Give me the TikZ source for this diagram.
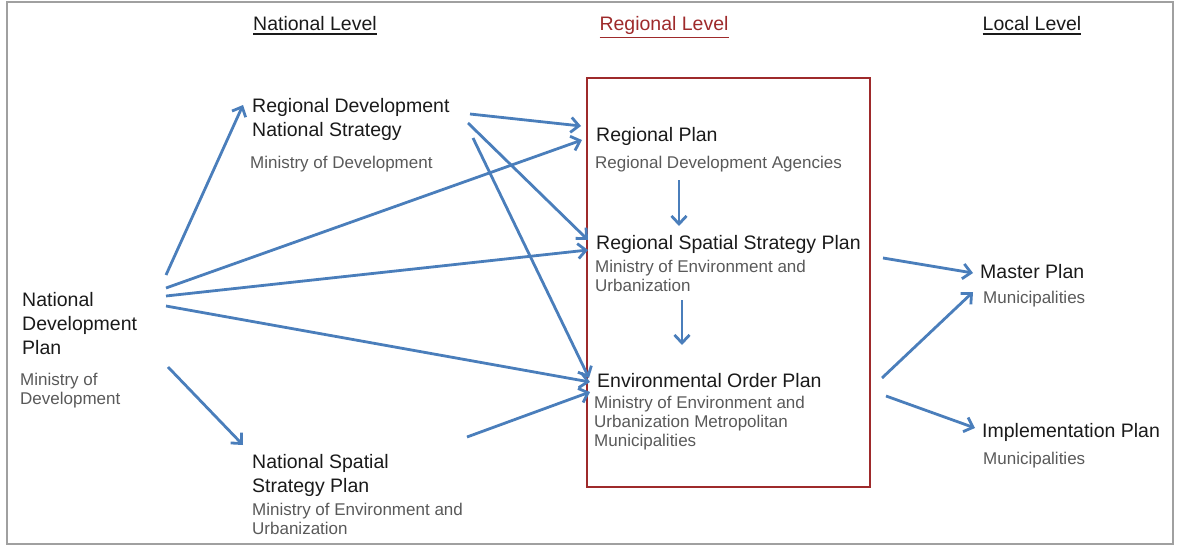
\documentclass[tikz,border=0pt]{standalone}
\usepackage{fontspec}
\setmainfont{Liberation Sans}
\usetikzlibrary{arrows.meta}
\definecolor{ink}{HTML}{1A1A1A}
\definecolor{muted}{HTML}{595959}
\definecolor{frame}{HTML}{A0A0A0}
\definecolor{regred}{HTML}{9E2A2B}
\definecolor{flowblue}{HTML}{4A7EBB}
\newcommand{\levelline}[1]{\leavevmode\vtop{\hbox{#1}\kern2.5pt\hrule height 1.6pt}}
\tikzset{
  plan/.style={anchor=north west,inner sep=0pt,align=left,text=ink,
               font=\fontsize{19.5}{24}\selectfont},
  agency/.style={anchor=north west,inner sep=0pt,align=left,text=muted,
               font=\fontsize{17}{19}\selectfont},
  level/.style={anchor=north,inner sep=0pt,font=\fontsize{19.5}{24}\selectfont},
  flow/.style={-{Straight Barb[length=8pt,width=15pt]},line width=2.8pt,color=flowblue},
}

\begin{document}
\begin{tikzpicture}[x=1pt,y=-1pt]
    \useasboundingbox (0,0) rectangle (1179,546);
    \draw[frame,line width=2pt] (7,2) rectangle (1173,544);
    % Level headings
    \foreach \x/\lab/\col [count=\k] in {315/National Level/ink,664/Regional Level/regred,1032/Local Level/ink}{
      \node[level,text=\col] (lvl\k) at (\x,16) {\levelline{\lab}};
    }
    \node[draw=regred,line width=1.2pt,minimum width=283pt,minimum height=409pt] (region) at (728.5,282.5) {};
    % National level
    \node[plan] (ndp) at (22,292) {National\\Development\\Plan};
    \node[agency] (ndpa) at (20,373) {Ministry of\\Development};
    \node[plan] (rdns) at (252,98) {Regional Development\\National Strategy};
    \node[agency] (rdnsa) at (250,156) {Ministry of Development};
    \node[plan] (nssp) at (252,454) {National Spatial\\Strategy Plan};
    \node[agency] (nsspa) at (252,503) {Ministry of Environment and\\Urbanization};
    % Regional level
    \node[plan] (rp) at (596,127) {Regional Plan};
    \node[agency] (rpa) at (595,156) {Regional Development Agencies};
    \node[plan] (rssp) at (596,235) {Regional Spatial Strategy Plan};
    \node[agency] (rsspa) at (595,260) {Ministry of Environment and\\Urbanization};
    \node[plan] (eop) at (597,373) {Environmental Order Plan};
    \node[agency] (eopa) at (594,396) {Ministry of Environment and\\Urbanization Metropolitan\\Municipalities};
    % Local level
    \node[plan] (mp) at (980,264) {Master Plan};
    \node[agency] (mpa) at (983,291) {Municipalities};
    \node[plan] (ip) at (982,423) {Implementation Plan};
    \node[agency] (ipa) at (983,452) {Municipalities};
    % Flows
    \draw[flow] ([shift={(144,-17)}]ndp.north west) -- ([shift={(-9,7)}]rdns.north west);
    \draw[flow] ([shift={(144,-4)}]ndp.north west) -- ([shift={(-14,13)}]rp.north west);
    \draw[flow] ([shift={(144,4)}]ndp.north west) -- ([shift={(-8,15)}]rssp.north west);
    \draw[flow] ([shift={(144,14)}]ndp.north west) -- ([shift={(-7,9)}]eop.north west);
    \draw[flow] ([shift={(146,75)}]ndp.north west) -- ([shift={(-9,-9)}]nssp.north west);
    \draw[flow] ([shift={(218,16)}]rdns.north west) -- ([shift={(-15,-1)}]rp.north west);
    \draw[flow] ([shift={(216,25)}]rdns.north west) -- ([shift={(-8,5)}]rssp.north west);
    \draw[flow] ([shift={(221,40)}]rdns.north west) -- ([shift={(-8,5)}]eop.north west);
    \draw[flow] ([shift={(215,-17)}]nssp.north west) -- ([shift={(-7,19)}]eop.north west);
    \draw[flow] ([shift={(83,53)}]rp.north west) -- ([shift={(83,-9)}]rssp.north west);
    \draw[flow] ([shift={(86,65)}]rssp.north west) -- ([shift={(85,-28)}]eop.north west);
    \draw[flow] ([shift={(287,23)}]rssp.north west) -- ([shift={(-7,9)}]mp.north west);
    \draw[flow] ([shift={(285,5)}]eop.north west) -- ([shift={(-7,28)}]mp.north west);
    \draw[flow] ([shift={(289,23)}]eop.north west) -- ([shift={(-7,5)}]ip.north west);
\end{tikzpicture}
\end{document}
